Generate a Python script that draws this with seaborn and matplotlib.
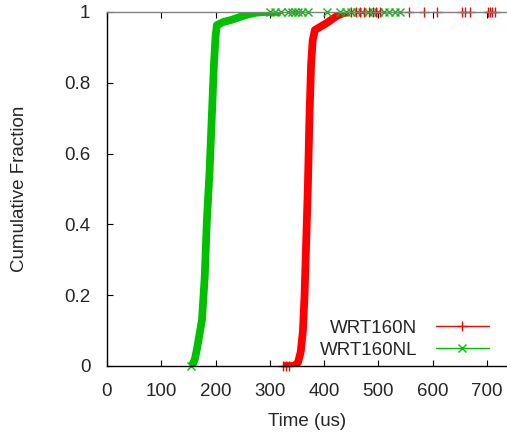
import matplotlib
matplotlib.use("Agg")
import matplotlib.pyplot as plt
import seaborn as sns
import pandas as pd
from matplotlib.lines import Line2D

# ---- data ----
red_label = "WRT160N"
green_label = "WRT160NL"

red_x = [325, 330, 335, 345, 352, 357, 361, 364, 367, 370, 373, 376, 379, 383, 395, 405, 415, 425, 435, 445]
red_y = [0.0, 0.0, 0.0, 0.0, 0.01, 0.04, 0.10, 0.20, 0.35, 0.50, 0.70, 0.85, 0.92, 0.949, 0.960, 0.969, 0.980, 0.990, 0.996, 1.0]
red_tail = [325, 330, 335, 450, 458, 466, 474, 482, 490, 496, 503, 556, 584, 608, 655, 659, 668, 702, 706, 710, 714]
red_tail_y = [0, 0, 0] + [1.0] * 18

green_x = [155, 158, 162, 166, 175, 180, 184, 189, 193, 197, 200, 202.5, 215, 230, 245, 260, 275, 290, 320]
green_y = [0.0, 0.005, 0.02, 0.05, 0.13, 0.25, 0.41, 0.55, 0.70, 0.85, 0.93, 0.963, 0.972, 0.978, 0.986, 0.993, 0.998, 1.0, 1.0]
green_tail = [155, 300, 310, 320, 333, 340, 347, 352, 359, 370, 405, 430, 440, 450, 460, 470, 480, 490, 500, 510, 520, 530, 540]
green_tail_y = [0.0] + [1.0] * 22

x_ticks = [0, 100, 200, 300, 400, 500, 600, 700]
y_ticks = [0, 0.2, 0.4, 0.6, 0.8, 1.0]
y_tick_labels = ["0", "0.2", "0.4", "0.6", "0.8", "1"]

RED = "#ff0000"
GREEN = "#00c000"
FS = 13.5

sns.set_theme(style="white")
plt.rcParams["font.family"] = ["Liberation Sans", "DejaVu Sans"]

fig = plt.figure(figsize=(5.07, 4.37), dpi=100)
ax = fig.add_axes([107 / 507, 1 - 366 / 437, 1 - 107 / 507, (366 - 12) / 437])

red_df = pd.DataFrame({"x": red_x, "y": red_y})
green_df = pd.DataFrame({"x": green_x, "y": green_y})

sns.lineplot(data=green_df, x="x", y="y", ax=ax, color=GREEN, lw=5.6,
             estimator=None, sort=False, legend=False, solid_capstyle="butt")
sns.lineplot(data=red_df, x="x", y="y", ax=ax, color=RED, lw=5.6,
             estimator=None, sort=False, legend=False, solid_capstyle="butt")

ax.plot(green_tail, green_tail_y, linestyle="none", marker="x", color=GREEN,
        markersize=5.5, markeredgewidth=1.0, clip_on=False)
ax.plot(red_tail, red_tail_y, linestyle="none", marker="+", color=RED,
        markersize=6.5, markeredgewidth=1.0, clip_on=False)

ax.set_xlim(0, 737)
ax.set_ylim(0, 1)
ax.set_xticks(x_ticks)
ax.set_xticklabels([str(t) for t in x_ticks])
ax.set_yticks(y_ticks)
ax.set_yticklabels(y_tick_labels)

ax.tick_params(axis="x", which="both", direction="in", length=4, width=0.8,
               color="black", top=True, bottom=True, labelsize=FS, pad=12)
ax.tick_params(axis="y", which="both", direction="in", length=4, width=0.8,
               color="black", left=True, right=False, labelsize=FS, pad=12)

for s in ["left", "bottom"]:
    ax.spines[s].set_color("black")
    ax.spines[s].set_linewidth(1.0)
ax.spines["top"].set_color("#808080")
ax.spines["top"].set_linewidth(1.0)
ax.spines["right"].set_visible(False)

ax.set_xlabel("Time (us)", fontsize=FS)
ax.set_ylabel("Cumulative Fraction", fontsize=FS)
ax.xaxis.set_label_coords((307 - 107) / 400, -(421 - 366) / 354)
ax.yaxis.set_label_coords((20 - 107) / 400, 0.5)
ax.xaxis.label.set_va("center")
ax.yaxis.label.set_va("center")

handles = [
    Line2D([0], [0], color=RED, lw=1.0, marker="+", markersize=6.5, markeredgewidth=1.0),
    Line2D([0], [0], color=GREEN, lw=1.0, marker="x", markersize=5.5, markeredgewidth=1.0),
]
ax.legend(handles, [red_label, green_label], loc="lower right",
          bbox_to_anchor=((489 - 107) / 400, 0.02), frameon=False, markerfirst=False,
          fontsize=FS, handlelength=2.83, handletextpad=1.0, labelspacing=0.26,
          borderaxespad=0.0, borderpad=0.0)

fig.savefig("out.png", dpi=100)
